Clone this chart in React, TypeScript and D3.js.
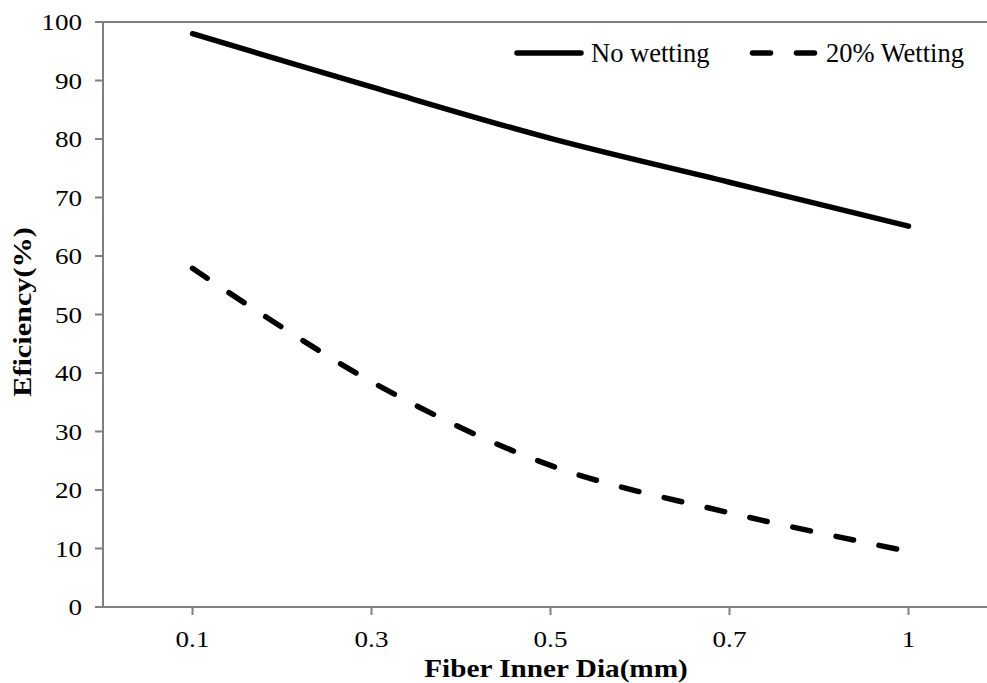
import React from "react";
import * as d3 from "d3";

const categories = ["0.1", "0.3", "0.5", "0.7", "1"];
const noWetting = [98, 88.9, 80.1, 72.6, 65.1];
const wetting20 = [57.9, 38.5, 24.2, 16.1, 9.5];
const yTicks = [0, 10, 20, 30, 40, 50, 60, 70, 80, 90, 100];
const seriesNames = ["No wetting", "20% Wetting"];

const W = 987;
const H = 683;
const left = 103;
const right = 998;
const top = 22;
const bottom = 607;
const FONT = '"Liberation Serif", "DejaVu Serif", serif';
const AXIS = "#7f7f7f";
const TICK_SX = 1.13;
const TITLE_SX = 1.17;

export default function App() {
  const x = d3.scaleBand().domain(categories).range([left, right]);
  const y = d3.scaleLinear().domain([0, 100]).range([bottom, top]);
  const cx = (c: string) => (x(c) as number) + x.bandwidth() / 2;

  const line = d3
    .line<number>()
    .x((_, i) => cx(categories[i]))
    .y((d) => y(d))
    .curve(d3.curveCatmullRom.alpha(0.5));

  const ts = { fontFamily: FONT };

  return (
    <svg
      width={W}
      height={H}
      style={{ position: "absolute", left: 0, top: 0, background: "#fff", fontFamily: FONT }}
    >
      {/* plot frame */}
      <line x1={left} x2={right} y1={top} y2={top} stroke={AXIS} strokeWidth={2} />
      <line x1={left} x2={left} y1={top} y2={bottom} stroke={AXIS} strokeWidth={2} />
      <line x1={left - 8} x2={right} y1={bottom} y2={bottom} stroke={AXIS} strokeWidth={2} />

      {/* y ticks */}
      {yTicks.map((t) => (
        <g key={t}>
          <line x1={left - 8} x2={left} y1={y(t)} y2={y(t)} stroke={AXIS} strokeWidth={2} />
          <text
            transform={`translate(82,${y(t)}) scale(${TICK_SX},1)`}
            dy="0.35em"
            textAnchor="end"
            fontSize={24}
            fill="#000"
            style={ts}
          >
            {t}
          </text>
        </g>
      ))}

      {/* x ticks */}
      {categories.map((c) => (
        <g key={c}>
          <line x1={cx(c)} x2={cx(c)} y1={bottom} y2={bottom + 8} stroke={AXIS} strokeWidth={2} />
          <text
            transform={`translate(${cx(c)},647) scale(${TICK_SX},1)`}
            textAnchor="middle"
            fontSize={24}
            fill="#000"
            style={ts}
          >
            {c}
          </text>
        </g>
      ))}

      {/* axis titles */}
      <text
        transform={`translate(556,677) scale(${TITLE_SX},1)`}
        textAnchor="middle"
        fontSize={25}
        fontWeight="bold"
        fill="#000"
        style={ts}
      >
        Fiber Inner Dia(mm)
      </text>
      <text
        transform={`translate(31,312) rotate(-90) scale(1.21,1)`}
        textAnchor="middle"
        fontSize={25}
        fontWeight="bold"
        fill="#000"
        style={ts}
      >
        Eficiency(%)
      </text>

      {/* series */}
      <path d={line(noWetting) || ""} fill="none" stroke="#000" strokeWidth={5.5} strokeLinecap="round" />
      <path
        d={line(wetting20) || ""}
        fill="none"
        stroke="#000"
        strokeWidth={5.5}
        strokeLinecap="round"
        strokeDasharray="18,26"
      />

      {/* legend */}
      <line x1={517} x2={581} y1={53} y2={53} stroke="#000" strokeWidth={5.5} strokeLinecap="round" />
      <text x={591} y={62} fontSize={26.5} fill="#000" style={ts}>
        {seriesNames[0]}
      </text>
      <line
        x1={752.5}
        x2={815}
        y1={53}
        y2={53}
        stroke="#000"
        strokeWidth={5.5}
        strokeLinecap="round"
        strokeDasharray="18,26"
      />
      <text x={826} y={62} fontSize={26.5} fill="#000" style={ts}>
        {seriesNames[1]}
      </text>
    </svg>
  );
}
